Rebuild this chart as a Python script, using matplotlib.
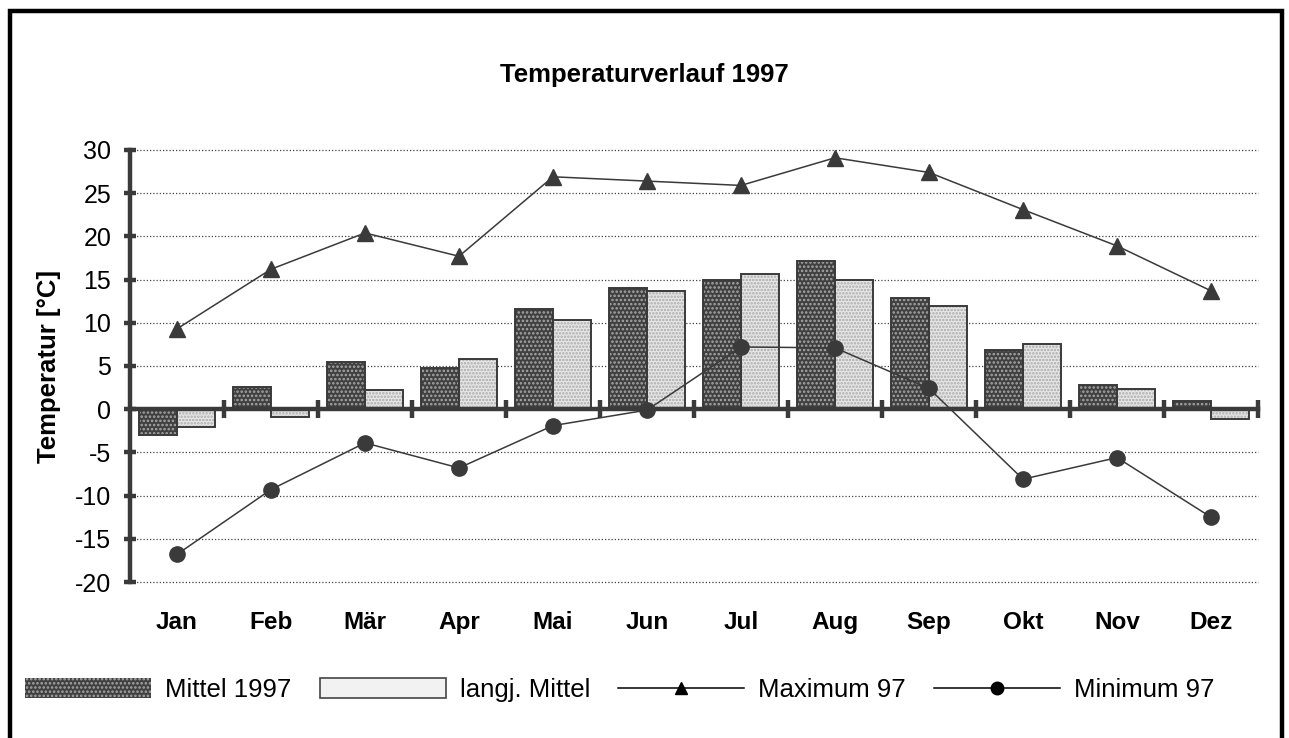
import matplotlib
matplotlib.use("Agg")
from matplotlib import pyplot as plt
import matplotlib.patches as patches
from matplotlib.lines import Line2D
import matplotlib.transforms as mtransforms
import numpy as np

plt.rcParams['font.family'] = ['Liberation Sans', 'DejaVu Sans']
plt.rcParams['hatch.linewidth'] = 1.2

months = ["Jan", "Feb", "Mär", "Apr", "Mai", "Jun", "Jul", "Aug", "Sep", "Okt", "Nov", "Dez"]
mittel_1997 = [-3.0, 2.6, 5.5, 4.8, 11.6, 14.0, 15.0, 17.1, 12.9, 6.8, 2.8, 0.9]
langj_mittel = [-2.1, -0.9, 2.2, 5.8, 10.3, 13.7, 15.7, 15.0, 12.0, 7.6, 2.3, -1.1]
maximum_97 = [9.3, 16.2, 20.4, 17.7, 26.9, 26.4, 25.9, 29.1, 27.4, 23.1, 18.9, 13.7]
minimum_97 = [-16.8, -9.3, -3.9, -6.8, -1.9, -0.1, 7.2, 7.1, 2.4, -8.1, -5.6, -12.5]
yticks = [-20, -15, -10, -5, 0, 5, 10, 15, 20, 25, 30]

W, H = 1289, 738
fig = plt.figure(figsize=(W / 100, H / 100), dpi=100)
ax = fig.add_axes([130 / W, 1 - 582 / H, (1258 - 130) / W, (582 - 150) / H])

x = np.arange(len(months))
bw = 0.4
dark = '#3a3a3a'

# grid
for t in yticks:
    ax.axhline(t, color='#444444', lw=0.9, ls=(0, (1, 1.6)), zorder=0, clip_on=False)

# bars: fill with pattern, then outline
ax.bar(x - bw / 2, mittel_1997, bw, facecolor='#404040', edgecolor='#a8a8a8',
       hatch='....', lw=0, zorder=2)
ax.bar(x - bw / 2, mittel_1997, bw, facecolor='none', edgecolor=dark, lw=1.4, zorder=3)
ax.bar(x + bw / 2, langj_mittel, bw, facecolor='#e6e6e6', edgecolor='#aaaaaa',
       hatch='.....', lw=0, zorder=2)
ax.bar(x + bw / 2, langj_mittel, bw, facecolor='none', edgecolor=dark, lw=1.4, zorder=3)

# lines
ax.plot(x, maximum_97, color=dark, lw=1.1, marker='^', ms=11, mfc=dark, mec=dark, zorder=5)
ax.plot(x, minimum_97, color=dark, lw=1.1, marker='o', ms=11, mfc=dark, mec=dark, zorder=5)

ax.set_xlim(-0.5, len(months) - 0.5)
ax.set_ylim(-20, 30)
for s in ['top', 'right']:
    ax.spines[s].set_visible(False)
ax.spines['left'].set_linewidth(3.2)
ax.spines['left'].set_color(dark)
ax.spines['bottom'].set_position(('data', 0))
ax.spines['bottom'].set_linewidth(3.2)
ax.spines['bottom'].set_color(dark)
ax.spines['bottom'].set_zorder(4)

ax.set_yticks(yticks)
ax.set_yticklabels([str(t) for t in yticks], fontsize=18)
ax.tick_params(axis='y', direction='inout', length=9, width=3.2, color=dark, pad=9)
ax.set_xticks(x + 0.5)
ax.set_xticklabels([])
ax.tick_params(axis='x', direction='inout', length=13, width=3.2, color=dark)

trans = mtransforms.blended_transform_factory(ax.transData, ax.transAxes)
for i, m in enumerate(months):
    ax.text(i, -0.093, m, transform=trans, ha='center', va='center',
            fontsize=17.5, fontweight='bold')

ax.set_ylabel("Temperatur [°C]", fontsize=18.5, fontweight='bold', labelpad=10)

fig.text(0.5, 1 - 75 / H, "Temperaturverlauf 1997", ha='center', va='center',
         fontsize=18.5, fontweight='bold')

handles = [
    patches.Patch(facecolor='#404040', edgecolor='#a8a8a8', hatch='....', lw=0),
    patches.Patch(facecolor='#f2f2f2', edgecolor='#444444', lw=1.2),
    Line2D([], [], color='black', lw=1.1, marker='^', ms=9, mfc='black'),
    Line2D([], [], color='black', lw=1.1, marker='o', ms=9, mfc='black'),
]
labels = ["Mittel 1997", "langj. Mittel", "Maximum 97", "Minimum 97"]
fig.legend(handles, labels, loc='center', bbox_to_anchor=(0.481, 1 - 690 / H), ncol=4,
           frameon=False, fontsize=18.5,
           handlelength=4.9, handleheight=0.8, columnspacing=1.1, handletextpad=0.55)

fig.add_artist(patches.Rectangle((9.5 / W, -0.05), (1281.5 - 9.5) / W, 1.05 - 11.5 / H,
                                 transform=fig.transFigure, fill=False, lw=3.2,
                                 edgecolor='black'))

fig.savefig("out.png", dpi=100)
